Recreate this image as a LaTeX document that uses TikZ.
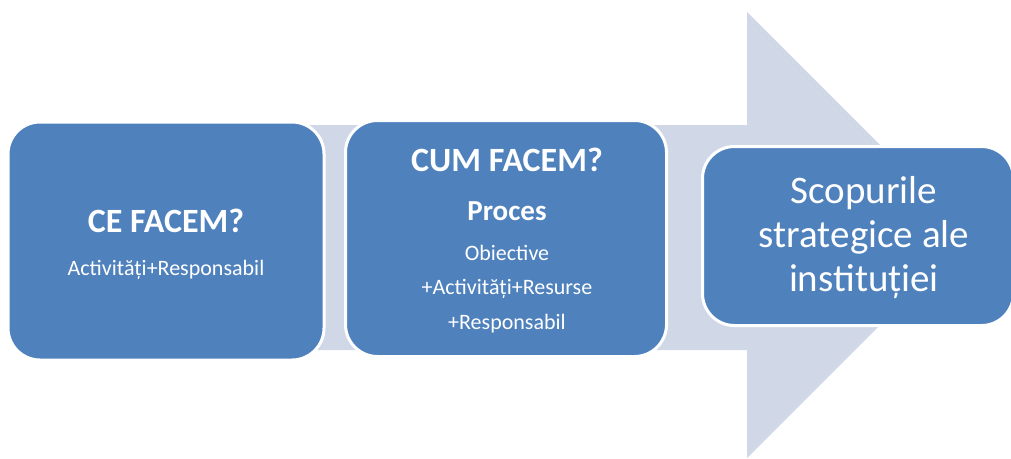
\documentclass[tikz,border=0pt]{standalone}
\usepackage{fontspec}
\setmainfont{Carlito}
\definecolor{stageblue}{HTML}{4F81BD}
\definecolor{flowgray}{HTML}{D0D8E8}
\tikzset{
  stage/.style={rectangle, rounded corners=32pt, fill=stageblue, draw=white, line width=3pt},
  bigtext/.style={text=white, anchor=base, font=\bfseries\fontsize{34}{40}\selectfont},
  subtext/.style={text=white, anchor=base, font=\bfseries\fontsize{29}{35}\selectfont},
  smalltext/.style={text=white, anchor=base, font=\fontsize{22}{26}\selectfont},
  goaltext/.style={text=white, anchor=base, font=\fontsize{39}{44}\selectfont},
}

\begin{document}
\begin{tikzpicture}[x=1pt,y=-1pt]
  \useasboundingbox (0,0) rectangle (1011,458);
  % big arrow behind the stages
  \fill[flowgray] (30,125) -- (747,125) -- (747,12) -- (970,235) -- (747,458) -- (747,350) -- (30,350) -- cycle;

  % stages
  \node[stage, minimum width=316pt, minimum height=238pt] (what) at (166,241) {};
  \node[stage, minimum width=321pt, minimum height=236pt] (how) at (506,238.5) {};
  \node[stage, minimum width=311pt, minimum height=179pt] (goal) at (858,236) {};

  % what
  \node[bigtext] (what-title) at (166,232) {CE FACEM?};
  \node[smalltext] (what-items) at (166,275) {Activități+Responsabil};

  % how
  \node[bigtext] (how-title) at (507,171) {CUM FACEM?};
  \node[subtext] (how-sub) at (507,220) {Proces};
  \node[smalltext] (how-l1) at (507,260) {Obiective};
  \node[smalltext] (how-l2) at (507,294) {+Activități+Resurse};
  \node[smalltext] (how-l3) at (507,329) {+Responsabil};

  % goal
  \node[goaltext] (goal-l1) at (864,203) {Scopurile};
  \node[goaltext] (goal-l2) at (864,247) {strategice ale};
  \node[goaltext] (goal-l3) at (864,291) {instituției};
\end{tikzpicture}
\end{document}
